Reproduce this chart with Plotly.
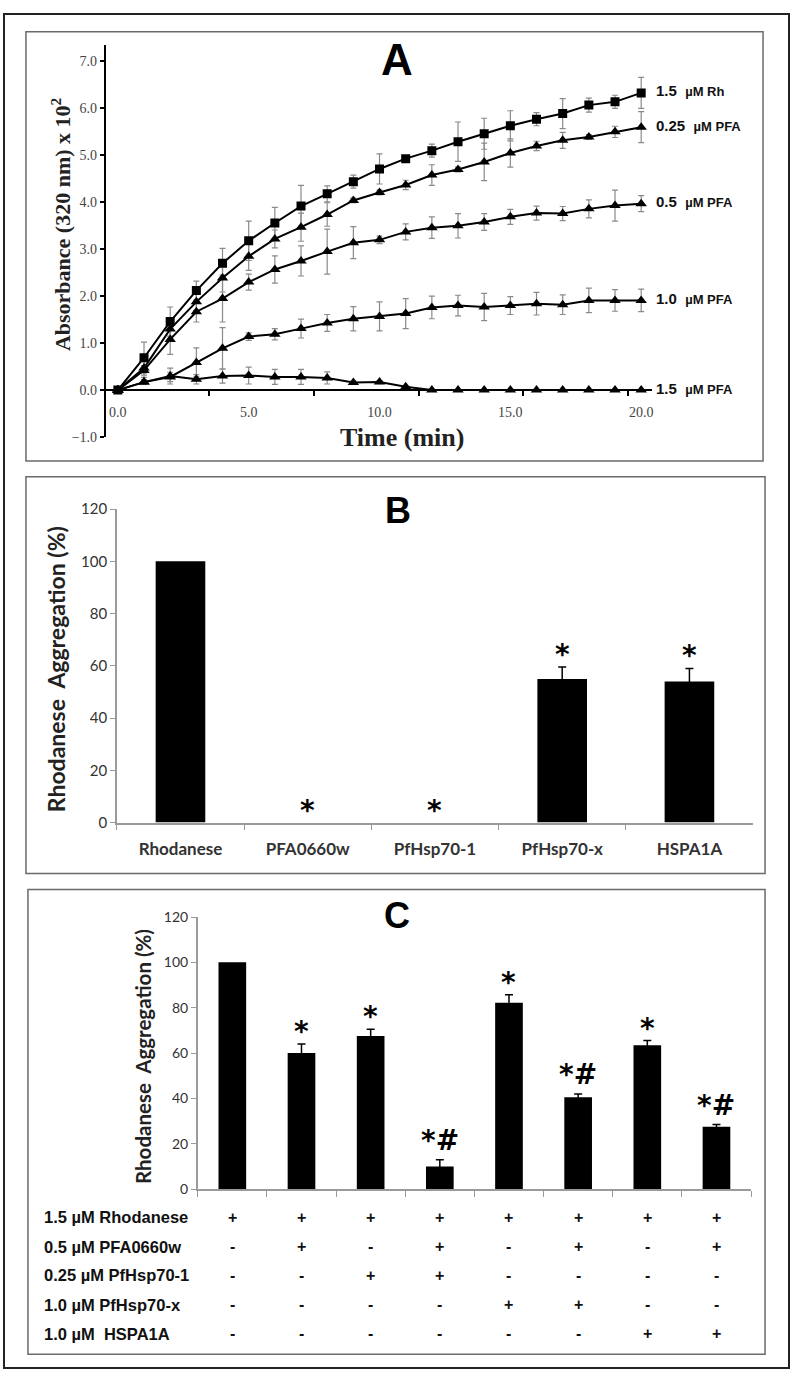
import plotly.graph_objects as go

# ---------------- data ----------------
# Panel A: absorbance (x 10^2) vs time
time_min = list(range(21))
rh_15 = [0, 0.69, 1.46, 2.12, 2.70, 3.18, 3.56, 3.92, 4.18, 4.44, 4.71,
         4.93, 5.10, 5.29, 5.46, 5.63, 5.77, 5.89, 6.07, 6.14, 6.33]
rh_15_err = [0, 0.33, 0.31, 0.20, 0.32, 0.42, 0.33, 0.44, 0.17, 0.14, 0.32,
             0.04, 0.14, 0.42, 0.33, 0.32, 0.14, 0.32, 0.15, 0.14, 0.33]
pfa_025 = [0, 0.47, 1.30, 1.88, 2.39, 2.85, 3.22, 3.47, 3.74, 4.04, 4.21,
           4.37, 4.58, 4.70, 4.86, 5.05, 5.20, 5.32, 5.39, 5.50, 5.60]
pfa_025_err = [0, 0.20, 0.20, 0.18, 0.30, 0.30, 0.19, 0.30, 0.25, 0.05, 0.05,
               0.10, 0.22, 0.05, 0.40, 0.30, 0.10, 0.17, 0.05, 0.12, 0.33]
pfa_05 = [0, 0.42, 1.08, 1.67, 1.95, 2.30, 2.57, 2.75, 2.95, 3.14, 3.20,
          3.37, 3.46, 3.50, 3.58, 3.69, 3.77, 3.76, 3.86, 3.93, 3.97]
pfa_05_err = [0, 0.10, 0.32, 0.22, 0.50, 0.17, 0.29, 0.32, 0.48, 0.34, 0.08,
              0.17, 0.23, 0.26, 0.18, 0.16, 0.15, 0.15, 0.19, 0.33, 0.17]
pfa_10 = [0, 0.17, 0.28, 0.59, 0.89, 1.14, 1.19, 1.31, 1.43, 1.52, 1.57,
          1.63, 1.76, 1.80, 1.77, 1.80, 1.84, 1.82, 1.91, 1.91, 1.91]
pfa_10_err = [0, 0.05, 0.10, 0.31, 0.44, 0.08, 0.12, 0.20, 0.18, 0.26, 0.31,
              0.32, 0.24, 0.22, 0.29, 0.19, 0.24, 0.21, 0.26, 0.23, 0.24]
pfa_15 = [0, 0.17, 0.30, 0.23, 0.30, 0.31, 0.28, 0.28, 0.26, 0.16, 0.17,
          0.07, 0, 0, 0, 0, 0, 0, 0, 0, 0]
pfa_15_err = [0, 0.05, 0.17, 0.10, 0.15, 0.18, 0.16, 0.16, 0.13, 0.03, 0.03,
              0.02, 0, 0, 0, 0, 0, 0, 0, 0, 0]
series_names = ['1.5', '0.25', '0.5', '1.0', '1.5']
series_units = ['µM Rh', 'µM PFA', 'µM PFA', 'µM PFA', 'µM PFA']

# Panel B
b_labels = ['Rhodanese', 'PFA0660w', 'PfHsp70-1', 'PfHsp70-x', 'HSPA1A']
b_vals = [100, 0, 0, 55, 54]
b_err = [0, 0, 0, 4.6, 5.0]
b_marks = ['', '*', '*', '*', '*']

# Panel C
c_pos = [1, 2, 3, 4, 5, 6, 7, 8]
c_vals = [100, 60, 67.5, 10, 82.2, 40.5, 63.5, 27.5]
c_err = [0, 4.0, 3.0, 3.0, 3.5, 1.5, 2.0, 1.0]
c_marks = ['', '*', '*', '*#', '*', '*#', '*', '*#']
row_labels = ['1.5 µM Rhodanese', '0.5 µM PFA0660w', '0.25 µM PfHsp70-1',
              '1.0 µM PfHsp70-x', '1.0 µM  HSPA1A']
row_signs = [
    ['+', '+', '+', '+', '+', '+', '+', '+'],
    ['-', '+', '-', '+', '-', '+', '-', '+'],
    ['-', '-', '+', '+', '-', '-', '-', '-'],
    ['-', '-', '-', '-', '+', '+', '-', '-'],
    ['-', '-', '-', '-', '-', '-', '+', '+'],
]

W, H = 795, 1381


def fx(px):
    return px / W


def fy(py):
    return 1 - py / H


def with_err(xs, ys, errs):
    # keep only the points that really carry an error bar
    keep = [i for i, e in enumerate(errs) if e]
    return [xs[i] for i in keep], [ys[i] for i in keep], [errs[i] for i in keep]


SERIF = 'Liberation Serif, Times New Roman, serif'
SANS = 'Liberation Sans, Arial, sans-serif'
CAL = 'Lato, Carlito, sans-serif'
MARK = 'DejaVu Sans, sans-serif'

fig = go.Figure()

# ---------------- Panel A ----------------
a_series = [(rh_15, rh_15_err, 'square'), (pfa_025, pfa_025_err, 'triangle-up'),
            (pfa_05, pfa_05_err, 'triangle-up'), (pfa_10, pfa_10_err, 'triangle-up'),
            (pfa_15, pfa_15_err, 'triangle-up')]
for vals, errs, sym in a_series:
    ex, ey, ee = with_err(time_min, vals, errs)
    fig.add_trace(go.Scatter(
        x=ex, y=ey, mode='markers', marker=dict(size=1, opacity=0),
        error_y=dict(type='data', array=ee, color='#8a8a8a', thickness=1.2, width=3),
        xaxis='x', yaxis='y', showlegend=False, hoverinfo='skip'))
for vals, errs, sym in a_series:
    fig.add_trace(go.Scatter(
        x=time_min, y=vals, mode='lines+markers',
        line=dict(color='black', width=2),
        marker=dict(symbol=sym, size=9 if sym == 'square' else 10, color='black'),
        xaxis='x', yaxis='y', showlegend=False, hoverinfo='skip'))

for vals, num, unit in zip([rh_15, pfa_025, pfa_05, pfa_10, pfa_15], series_names, series_units):
    fig.add_annotation(
        x=20, y=vals[-1], xref='x', yref='y', xanchor='left', yanchor='middle',
        xshift=13, yshift=2, showarrow=False,
        text=f"<b>{num}\u00a0\u00a0<span style='font-size:13px'>{unit}</span></b>",
        font=dict(family=SANS, size=15, color='#111'))

# ---------------- Panel B ----------------
fig.add_trace(go.Bar(
    x=b_labels, y=b_vals, width=0.39, marker=dict(color='black', line=dict(width=0)),
    xaxis='x2', yaxis='y2', showlegend=False, hoverinfo='skip'))
ex, ey, ee = with_err(b_labels, b_vals, b_err)
fig.add_trace(go.Scatter(
    x=ex, y=ey, mode='markers', marker=dict(size=1, opacity=0),
    error_y=dict(type='data', array=ee, color='black', thickness=1.5, width=4),
    xaxis='x2', yaxis='y2', showlegend=False, hoverinfo='skip'))
for lab, v, e, m in zip(b_labels, b_vals, b_err, b_marks):
    if m:
        fig.add_annotation(x=lab, y=v + e, xref='x2', yref='y2', xanchor='center',
                           yanchor='bottom', yshift=-6, showarrow=False, text=f'<b>{m}</b>',
                           font=dict(family=MARK, size=28, color='black'))

# ---------------- Panel C ----------------
fig.add_trace(go.Bar(
    x=c_pos, y=c_vals, width=0.40, marker=dict(color='black', line=dict(width=0)),
    xaxis='x3', yaxis='y3', showlegend=False, hoverinfo='skip'))
ex, ey, ee = with_err(c_pos, c_vals, c_err)
fig.add_trace(go.Scatter(
    x=ex, y=ey, mode='markers', marker=dict(size=1, opacity=0),
    error_y=dict(type='data', array=ee, color='black', thickness=1.5, width=4),
    xaxis='x3', yaxis='y3', showlegend=False, hoverinfo='skip'))
for p, v, e, m in zip(c_pos, c_vals, c_err, c_marks):
    if m:
        fig.add_annotation(x=p, y=v + e, xref='x3', yref='y3', xanchor='center',
                           yanchor='bottom', yshift=1 if '#' in m else -6, showarrow=False,
                           text=f'<b>{m}</b>', font=dict(family=MARK, size=28, color='black'))

row_y = [1223, 1253, 1282, 1312, 1341]
for lab, signs, ry in zip(row_labels, row_signs, row_y):
    fig.add_annotation(x=fx(42), y=fy(ry), xref='paper', yref='paper', xanchor='left',
                       yanchor='middle', showarrow=False, text=f'<b>{lab}</b>',
                       font=dict(family=SANS, size=16.5, color='#111'))
    for p, s in zip(c_pos, signs):
        fig.add_annotation(x=p, y=fy(ry), xref='x3', yref='paper', xanchor='center',
                           yanchor='middle', showarrow=False, text=f'<b>{s}</b>',
                           font=dict(family=SANS, size=16, color='#111'))

# ---------------- titles / panel letters ----------------
fig.add_annotation(x=fx(61), y=fy(217), xref='paper', yref='paper', textangle=-90,
                   xanchor='center', yanchor='middle', showarrow=False,
                   text='<b>Absorbance (320 nm) x 10<sup>2</sup></b>',
                   font=dict(family=SERIF, size=22, color='#222'))
fig.add_annotation(x=fx(403), y=fy(433), xref='paper', yref='paper', xanchor='center',
                   yanchor='middle', showarrow=False,
                   text='<b>Time (min)</b>', font=dict(family=SERIF, size=26, color='#222'))
for ty, tx, ts in [(668, 56, 23), (1060, 143, 20.5)]:
    fig.add_annotation(x=fx(tx), y=fy(ty), xref='paper', yref='paper', textangle=-90,
                       xanchor='center', yanchor='middle', showarrow=False,
                       text='<b>Rhodanese\u00a0\u00a0Aggregation (%)</b>',
                       font=dict(family=CAL, size=ts, color='#222'))
for letter, lx, ly, size in [('A', 397, 50, 44), ('B', 399, 507, 36), ('C', 398, 917, 36)]:
    fig.add_annotation(x=fx(lx), y=fy(ly), xref='paper', yref='paper', xanchor='center',
                       yanchor='middle', showarrow=False,
                       text=f'<b>{letter}</b>', font=dict(family=SANS, size=size, color='black'))

# ---------------- frames ----------------
shapes = [dict(type='rect', xref='paper', yref='paper', x0=fx(4), x1=fx(790), y0=fy(1376), y1=fy(4),
               line=dict(color='#222', width=2))]
for x0, y0, x1, y1 in [(26, 22, 764, 457), (26, 473, 766, 875), (28, 891, 766, 1362)]:
    shapes.append(dict(type='rect', xref='paper', yref='paper', x0=fx(x0), x1=fx(x1),
                       y0=fy(y1), y1=fy(y0), line=dict(color='#6a6a6a', width=1.5)))

gray_tick = dict(family=CAL, size=15, color='#333')
fig.update_layout(
    width=W, height=H, margin=dict(l=0, r=0, t=0, b=0),
    paper_bgcolor='white', plot_bgcolor='rgba(0,0,0,0)',
    shapes=shapes,
    xaxis=dict(domain=[fx(106), fx(653)], range=[-0.458, 20.42], anchor='free',
               position=fy(385.1), showline=True, linecolor='black', linewidth=2,
               tickvals=[0, 5, 10, 15, 20], tickformat='.1f', ticks='',
               minor=dict(tickvals=[3.5, 7.5, 11.5, 15.5, 19.5], ticks='outside',
                          ticklen=5, tickcolor='black', tickwidth=1.5),
               ticklabelstandoff=9, showgrid=False, zeroline=False,
               tickfont=dict(family=SERIF, size=14, color='#444')),
    yaxis=dict(domain=[fy(432.7), fy(35)], range=[-1, 7.36], anchor='x',
               showline=True, linecolor='black', linewidth=2,
               tickvals=[-1, 0, 1, 2, 3, 4, 5, 6, 7], tickformat='.1f',
               ticks='outside', ticklen=4, tickcolor='black', tickwidth=1.5,
               showgrid=False, zeroline=False,
               tickfont=dict(family=SERIF, size=14, color='#444')),
    xaxis2=dict(domain=[fx(117), fx(754)], range=[-0.5, 4.5], anchor='y2',
                showline=True, linecolor='#9a9a9a', linewidth=1.5, tickson='boundaries',
                ticks='outside', ticklen=6, tickcolor='#9a9a9a', ticklabelstandoff=10,
                showgrid=False, tickfont=dict(family=CAL, size=17, color='#333', weight='bold')),
    yaxis2=dict(domain=[fy(823.3), fy(505.7)], range=[0, 120], anchor='x2',
                showline=True, linecolor='#9a9a9a', linewidth=1.5, dtick=20,
                ticks='outside', ticklen=5, tickcolor='#9a9a9a', showgrid=False,
                zeroline=False, tickfont=gray_tick),
    xaxis3=dict(domain=[fx(198), fx(752)], range=[0.5, 8.5], anchor='y3',
                showline=True, linecolor='#9a9a9a', linewidth=1.5,
                tickvals=[0.5, 1.5, 2.5, 3.5, 4.5, 5.5, 6.5, 7.5, 8.5], showticklabels=False,
                ticks='outside', ticklen=6, tickcolor='#9a9a9a', showgrid=False, zeroline=False),
    yaxis3=dict(domain=[fy(1194.7), fy(919)], range=[0, 120], anchor='x3',
                showline=True, linecolor='#9a9a9a', linewidth=1.5, dtick=20,
                ticks='outside', ticklen=5, tickcolor='#9a9a9a', showgrid=False,
                zeroline=False, tickfont=dict(family=CAL, size=14, color='#333')),
)

fig.write_html('out.html', config={'displayModeBar': False},
               post_script="document.body.style.margin='0';")
